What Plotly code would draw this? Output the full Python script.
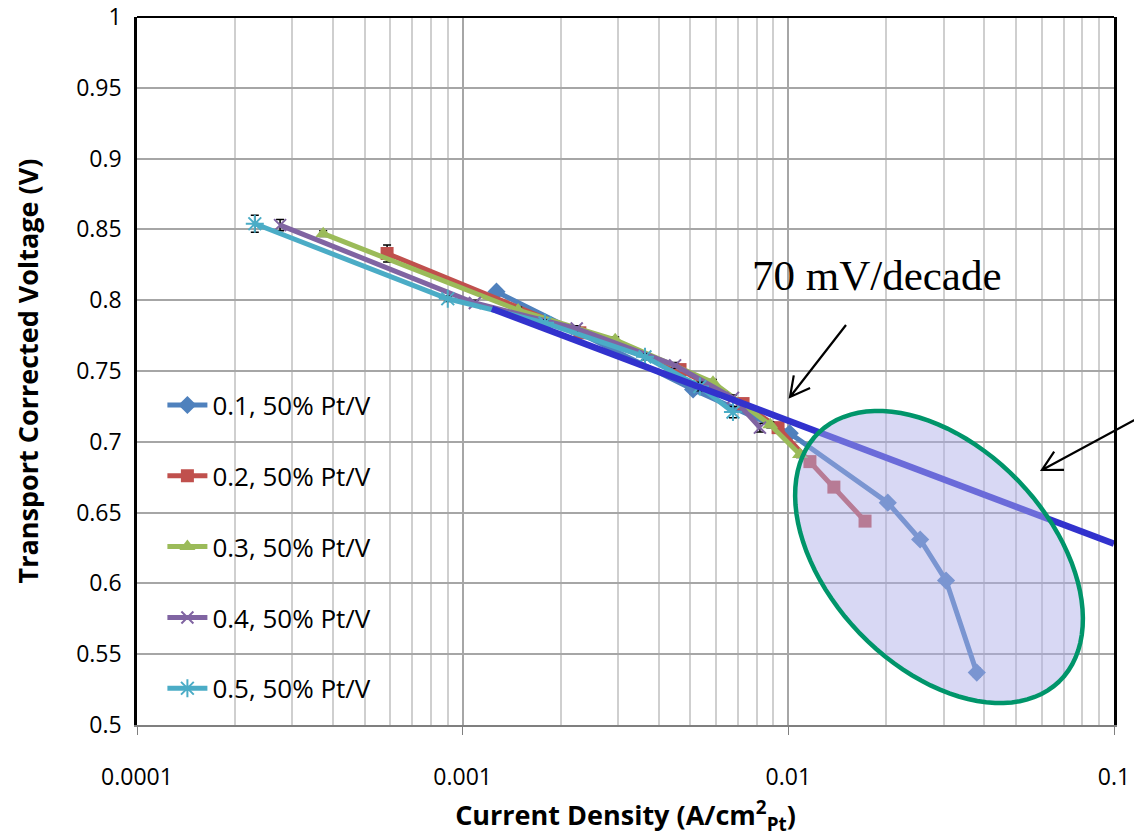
import math
import plotly.graph_objects as go

# ---------------- data ----------------
series_names = ["0.1, 50% Pt/V", "0.2, 50% Pt/V", "0.3, 50% Pt/V", "0.4, 50% Pt/V", "0.5, 50% Pt/V"]

x_01 = [0.00127, 0.0051, 0.0101, 0.0202, 0.0254, 0.0305, 0.0379]
y_01 = [0.806, 0.737, 0.706, 0.657, 0.631, 0.602, 0.537]
e_01 = [0.002, 0.003, 0.002, 0.002, 0.002, 0.002, 0.003]

x_02 = [0.000586, 0.00229, 0.00465, 0.00726, 0.0093, 0.01165, 0.0138, 0.0172]
y_02 = [0.833, 0.777, 0.751, 0.727, 0.710, 0.686, 0.668, 0.644]
e_02 = [0.006, 0.002, 0.002, 0.003, 0.002, 0.002, 0.002, 0.002]

x_03 = [0.000373, 0.00148, 0.00294, 0.00587, 0.0088, 0.01086]
y_03 = [0.847, 0.793, 0.772, 0.742, 0.712, 0.691]
e_03 = [0.002, 0.002, 0.002, 0.002, 0.002, 0.002]

x_04 = [0.000275, 0.00109, 0.00224, 0.00449, 0.00676, 0.00818]
y_04 = [0.853, 0.798, 0.780, 0.754, 0.731, 0.710]
e_04 = [0.004, 0.002, 0.002, 0.002, 0.002, 0.003]

x_05 = [0.000230, 0.00090, 0.00179, 0.00363, 0.00535, 0.00676]
y_05 = [0.854, 0.801, 0.784, 0.760, 0.739, 0.721]
e_05 = [0.006, 0.002, 0.002, 0.002, 0.003, 0.004]

fit_x = [0.00123, 0.1]
fit_y = [0.794, 0.628]

x_tick_vals = [0.0001, 0.001, 0.01, 0.1]
x_tick_text = ["0.0001", "0.001", "0.01", "0.1"]
y_tick_vals = [0.5, 0.55, 0.6, 0.65, 0.7, 0.75, 0.8, 0.85, 0.9, 0.95, 1.0]
y_tick_text = ["0.5", "0.55", "0.6", "0.65", "0.7", "0.75", "0.8", "0.85", "0.9", "0.95", "1"]

annotation_text = "70 mV/decade"

# ---------------- styles ----------------
colors = ["#4F81BD", "#C0504D", "#9BBB59", "#8064A2", "#4BACC6"]
symbols = ["diamond", "square", "triangle-up", "x-thin", "asterisk"]
msizes = [14, 13, 14, 12, 15]
FIT_COLOR = "#3232CD"

W, H = 1134, 837
PL, PT, PR, PB = 137, 17, 1114, 725
PW, PH = PR - PL, PB - PT


def pp(px, py):
    return (px - PL) / PW, (PB - py) / PH


fig = go.Figure()
all_x = [x_01, x_02, x_03, x_04, x_05]
all_y = [y_01, y_02, y_03, y_04, y_05]
all_e = [e_01, e_02, e_03, e_04, e_05]
for i in range(5):
    line_marker = symbols[i] in ("x-thin", "asterisk")
    marker = dict(symbol=symbols[i], size=msizes[i], color=colors[i])
    if line_marker:
        marker["line"] = dict(color=colors[i], width=2)
    else:
        marker["line"] = dict(width=0)
    fig.add_trace(go.Scatter(
        x=all_x[i], y=all_y[i], name=series_names[i], mode="lines+markers",
        line=dict(color=colors[i], width=5), marker=marker,
        error_y=dict(type="data", array=all_e[i], color="black", thickness=1.5, width=4),
        legendgroup=f"g{i}",
    ))

fig.add_trace(go.Scatter(x=fit_x, y=fit_y, mode="lines", showlegend=False,
                         line=dict(color=FIT_COLOR, width=6.5), hoverinfo="skip"))

# ellipse (paper coordinates)
cx, cy, a, b, th = 939, 557, 173, 110, math.radians(46)
pts = []
for k in range(97):
    t = 2 * math.pi * k / 96
    ex = cx + a * math.cos(t) * math.cos(th) - b * math.sin(t) * math.sin(th)
    ey = cy + a * math.cos(t) * math.sin(th) + b * math.sin(t) * math.cos(th)
    pts.append(pp(ex, ey))
path = "M " + " L ".join(f"{x:.5f},{y:.5f}" for x, y in pts) + " Z"
shapes = [dict(type="path", xref="paper", yref="paper", path=path,
               fillcolor="rgba(172,172,232,0.47)", line=dict(color="#00956A", width=4.5),
               layer="above")]


def arrow(tail, tip, hl=22, ang=28):
    dx, dy = tail[0] - tip[0], tail[1] - tip[1]
    L = math.hypot(dx, dy)
    ux, uy = dx / L, dy / L
    heads = []
    for s in (1, -1):
        r = math.radians(ang * s)
        hx = tip[0] + hl * (ux * math.cos(r) - uy * math.sin(r))
        hy = tip[1] + hl * (ux * math.sin(r) + uy * math.cos(r))
        heads.append(pp(hx, hy))
    t0 = pp(*tail)
    t1 = pp(*tip)
    p = (f"M {t0[0]:.5f},{t0[1]:.5f} L {t1[0]:.5f},{t1[1]:.5f} "
         f"M {heads[0][0]:.5f},{heads[0][1]:.5f} L {t1[0]:.5f},{t1[1]:.5f} L {heads[1][0]:.5f},{heads[1][1]:.5f}")
    return dict(type="path", xref="paper", yref="paper", path=p,
                line=dict(color="black", width=2.2), layer="above")


shapes.append(arrow((846, 325), (790, 397)))
shapes.append(arrow((1140, 417), (1042, 470)))
# top border
shapes.append(dict(type="line", xref="paper", yref="paper", x0=0, x1=1, y0=1, y1=1,
                   line=dict(color="black", width=2), layer="above"))

tx, ty = pp(877, 275)
annotations = [dict(text=annotation_text, x=tx, y=ty, xref="paper", yref="paper",
                    showarrow=False, font=dict(family="Liberation Serif", size=43, color="black"),
                    xanchor="center", yanchor="middle")]

FONT = "Open Sans"
fig.update_layout(
    width=W, height=H,
    margin=dict(l=PL, r=W - PR, t=PT, b=H - PB, autoexpand=False),
    paper_bgcolor="white", plot_bgcolor="white",
    font=dict(family=FONT, size=23, color="black"),
    showlegend=True,
    legend=dict(x=0.026, y=0.485, xanchor="left", yanchor="top",
                bgcolor="rgba(0,0,0,0)", font=dict(family=FONT, size=26),
                tracegroupgap=34, itemwidth=40),
    shapes=shapes, annotations=annotations,
)
fig.update_xaxes(
    type="log", range=[-4, -1], automargin=False,
    tickvals=x_tick_vals, ticktext=x_tick_text,
    showgrid=True, gridcolor="#A6A6A6", gridwidth=2,
    minor=dict(dtick="D1", showgrid=True, gridcolor="#CFCFCF", gridwidth=1.5, ticks=""),
    showline=True, linecolor="#7F7F7F", linewidth=2, mirror=False,
    ticks="outside", ticklen=8, tickcolor="#7F7F7F", tickwidth=1,
    ticklabelstandoff=22,
    tickfont=dict(family=FONT, size=23),
    title=dict(text="Current Density (A/cm<sup>2</sup><sub>Pt</sub>)",
               font=dict(family=FONT, size=27, weight="bold"), standoff=20),
    zeroline=False,
)
fig.update_yaxes(
    range=[0.5, 1.0], tickvals=y_tick_vals, ticktext=y_tick_text, automargin=False,
    showgrid=True, gridcolor="#A6A6A6", gridwidth=2,
    showline=True, linecolor="black", linewidth=2.5, mirror=True,
    ticks="", ticklabelstandoff=8,
    tickfont=dict(family=FONT, size=23),
    title=dict(text="Transport Corrected Voltage (V)",
               font=dict(family=FONT, size=27, weight="bold"), standoff=30),
    zeroline=False,
)

fig.write_html("out.html")
